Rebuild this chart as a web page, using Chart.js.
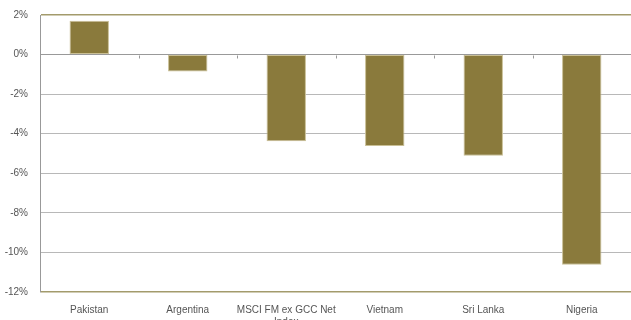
<!DOCTYPE html>
<html>
<head>
<meta charset="utf-8">
<script src="https://cdn.jsdelivr.net/npm/chart.js@4"></script>
<style>
  html, body { margin: 0; padding: 0; background: #fff; overflow: hidden; }
  #wrap { width: 631px; height: 323px; margin-top: -3px; }
</style>
</head>
<body>
<div id="wrap"><canvas id="chart"></canvas></div>
<script>
const categories = ['Pakistan', 'Argentina', ['MSCI FM ex GCC Net', 'Index'], 'Vietnam', 'Sri Lanka', 'Nigeria'];
const returns = [1.71, -0.86, -4.38, -4.62, -5.12, -10.62];
const yTicks = [2, 0, -2, -4, -6, -8, -10, -12];

const olive = '#8a7a3c';
const frame = '#a39b6c';

// small category ticks hanging below the zero line, between categories
const zeroTicks = {
  id: 'zeroTicks',
  afterDatasetsDraw(chart) {
    const x = chart.scales.x, y = chart.scales.y;
    const y0 = Math.round(y.getPixelForValue(0)) + 0.5;
    const c = chart.ctx;
    c.save();
    c.strokeStyle = '#999';
    c.lineWidth = 1;
    c.beginPath();
    for (let i = 1; i < categories.length; i++) {
      const px = Math.round((x.getPixelForValue(i - 1) + x.getPixelForValue(i)) / 2) + 0.5;
      c.moveTo(px, y0);
      c.lineTo(px, y0 + 3);
    }
    c.stroke();
    c.restore();
  }
};

document.addEventListener('DOMContentLoaded', () => {
  const ctx = document.getElementById('chart').getContext('2d');
  new Chart(ctx, {
    type: 'bar',
    data: {
      labels: categories,
      datasets: [{
        data: returns,
        backgroundColor: olive,
        borderColor: '#c9bf95',
        borderWidth: 1,
        borderSkipped: false,
        categoryPercentage: 0.8,
        barPercentage: 0.5
      }]
    },
    options: {
      responsive: true,
      maintainAspectRatio: false,
      animation: false,
      layout: { padding: { top: 10, right: 0, left: 0, bottom: 0 } },
      plugins: { legend: { display: false }, tooltip: { enabled: false } },
      scales: {
        x: {
          offset: true,
          grid: { display: false },
          border: { display: false },
          ticks: { color: '#555', font: { family: 'Liberation Sans', size: 10 }, padding: 4, maxRotation: 0, autoSkip: false },
          afterFit: (s) => { s.height = 28; }
        },
        y: {
          min: -12,
          max: 2,
          afterBuildTicks: (s) => { s.ticks = yTicks.map(v => ({ value: v })); },
          grid: {
            color: (c) => {
              if (!c.tick) return '#b8b8b8';
              if (c.tick.value === 2 || c.tick.value === -12) return frame;
              if (c.tick.value === 0) return '#999';
              return '#b8b8b8';
            },
            lineWidth: (c) => (c.tick && (c.tick.value === 2 || c.tick.value === -12)) ? 1.5 : 1,
            drawTicks: false
          },
          border: { display: true, color: '#999' },
          ticks: {
            color: '#555',
            font: { family: 'Liberation Sans', size: 10 },
            padding: 12,
            callback: (v) => v + '%'
          },
          afterFit: (s) => { s.width = 40; }
        }
      }
    },
    plugins: [zeroTicks]
  });
});
</script>
</body>
</html>
